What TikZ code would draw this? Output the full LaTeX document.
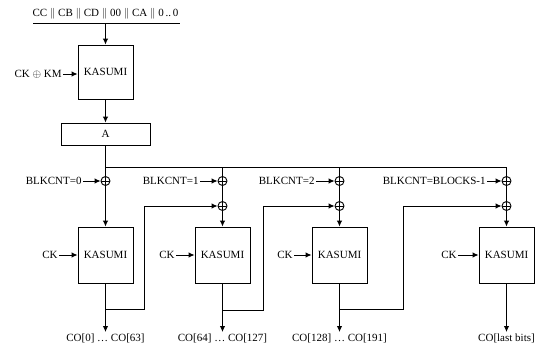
\documentclass[tikz,border=0pt]{standalone}
\usepackage{fontspec}
\setmainfont{Liberation Serif}
\usetikzlibrary{arrows.meta}

\begin{document}
\begin{tikzpicture}[x=1pt, y=-1pt, line width=0.9pt,
  font=\fontsize{11}{13}\selectfont,
  arr/.style={-{Latex[length=6pt,width=5.5pt]}},
  kbox/.style={draw, minimum width=55pt, minimum height=56pt, inner sep=0pt},
  lbl/.style={inner sep=1pt},
  xor/.style={draw, circle, minimum size=9pt, inner sep=0pt,
    path picture={\draw (path picture bounding box.north) -- (path picture bounding box.south)
      (path picture bounding box.west) -- (path picture bounding box.east);}}]
  \useasboundingbox (0,0) rectangle (535,356);

  % header and first KASUMI
  \node[lbl] (hdr) at (105.5,14) {CC $\|$ CB $\|$ CD $\|$ 00 $\|$ CA $\|$ 0\,..\,0};
  \coordinate (ul1) at (33,23);
  \coordinate (ul2) at (180,23);
  \coordinate (ulm) at (105.5,23);
  \node[kbox, minimum height=54pt] (km) at (105.5,72) {KASUMI};
  \node[lbl, anchor=east] (ckkm) at (63,74) {CK $\oplus$ KM};
  \node[draw, minimum width=89pt, minimum height=22pt, inner sep=0pt] (abox) at (105.5,134) {A};

  \draw (ul1) -- (ul2);
  \draw[arr] (ulm) -- (km);
  \draw[arr] (ckkm) -- (ckkm -| km.west);
  \draw[arr] (km) -- (abox);

  % xor gates
  \node[xor] (xa1) at (105.5,181) {};
  \node[xor] (xa2) at (222.5,181) {};
  \node[xor] (xa3) at (339.5,181) {};
  \node[xor] (xa4) at (506.5,181) {};
  \node[xor] (xb2) at (222.5,206) {};
  \node[xor] (xb3) at (339.5,206) {};
  \node[xor] (xb4) at (506.5,206) {};
  \coordinate (bus1) at (105.5,167);

  \node[lbl, anchor=east] (bc1) at (83,181) {BLKCNT=0};
  \node[lbl, anchor=east] (bc2) at (200,181) {BLKCNT=1};
  \node[lbl, anchor=east] (bc3) at (316,181) {BLKCNT=2};
  \node[lbl, anchor=east] (bc4) at (487,181) {BLKCNT=BLOCKS-1};

  % KASUMI blocks
  \node[kbox] (k1) at (105.5,255) {KASUMI};
  \node[kbox] (k2) at (222.5,255) {KASUMI};
  \node[kbox] (k3) at (339.5,255) {KASUMI};
  \node[kbox] (k4) at (506.5,255) {KASUMI};
  \node[lbl, anchor=east] (ck1) at (59,255) {CK};
  \node[lbl, anchor=east] (ck2) at (176,255) {CK};
  \node[lbl, anchor=east] (ck3) at (294,255) {CK};
  \node[lbl, anchor=east] (ck4) at (458,255) {CK};

  \node[lbl] (o1) at (105.5,338) {CO[0] \dots\ CO[63]};
  \node[lbl] (o2) at (222.5,338) {CO[64] \dots\ CO[127]};
  \node[lbl] (o3) at (339.5,338) {CO[128] \dots\ CO[191]};
  \node[lbl] (o4) at (506.5,338) {CO[last bits]};

  \draw (abox) -- (xa1);
  \draw (bus1) -| (xa2);
  \draw (bus1) -| (xa3);
  \draw (bus1) -| (xa4);
  \foreach \i in {2,3,4} {
    \draw (xa\i) -- (xb\i);
    \draw[arr] (xb\i) -- (k\i);
  }
  \draw[arr] (xa1) -- (k1);
  \foreach \i in {1,...,4} {
    \draw[arr] (bc\i) -- (xa\i);
    \draw[arr] (ck\i) -- (k\i);
    \draw[arr] (k\i) -- (o\i);
  }

  % feedback lines
  \coordinate (fb1) at (105.5,309);
  \coordinate (fb2) at (222.5,310);
  \coordinate (fb3) at (339.5,309);
  \coordinate (tn1) at (144,206);
  \coordinate (tn2) at (263,206);
  \coordinate (tn3) at (403,206);
  \draw[arr] (fb1) -| (tn1) -- (xb2);
  \draw[arr] (fb2) -| (tn2) -- (xb3);
  \draw[arr] (fb3) -| (tn3) -- (xb4);
\end{tikzpicture}
\end{document}
